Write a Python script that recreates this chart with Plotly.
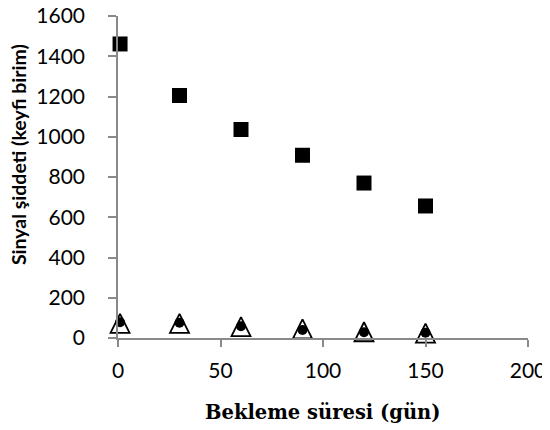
import plotly.graph_objects as go

days = [1, 30, 60, 90, 120, 150]
series_square = [1461, 1205, 1036, 908, 770, 656]
series_triangle = [73, 73, 57, 45, 31, 24]
series_circle = [78, 76, 58, 40, 29, 26]

x_ticks = [0, 50, 100, 150, 200]
y_ticks = [0, 200, 400, 600, 800, 1000, 1200, 1400, 1600]

x_title = "Bekleme süresi (gün)"
y_title = "Sinyal şiddeti (keyfi birim)"

fig = go.Figure()
fig.add_trace(go.Scatter(x=days, y=series_square, mode="markers",
                         marker=dict(symbol="square", size=15, color="black"),
                         cliponaxis=False, showlegend=False))
fig.add_trace(go.Scatter(x=days, y=series_triangle, mode="markers",
                         marker=dict(symbol="arrow-down-open", size=19, standoff=9.5, angle=180,
                                     color="black", line=dict(width=1.8, color="black")),
                         cliponaxis=False, showlegend=False))
fig.add_trace(go.Scatter(x=days, y=series_circle, mode="markers",
                         marker=dict(symbol="circle", size=10, color="black"),
                         cliponaxis=False, showlegend=False))

axis_common = dict(showgrid=False, zeroline=False, showline=True, linecolor="#898989",
                   linewidth=1.5, ticks="outside", tickcolor="#898989", tickwidth=1.5,
                   automargin=False, ticklabeloverflow="allow",
                   tickfont=dict(family="Lato", size=21, color="black"))

fig.update_xaxes(range=[0, 200], tickvals=x_ticks, ticklen=7, ticklabelstandoff=6, **axis_common)
fig.update_yaxes(range=[0, 1600], tickvals=y_ticks, ticklen=8, ticklabelstandoff=19, **axis_common)

# page body has an 8px default margin, so the figure is sized/offset to compensate
fig.update_layout(
    width=542, height=422,
    margin=dict(l=110, r=22, t=8, b=92),
    plot_bgcolor="white", paper_bgcolor="white",
    annotations=[
        dict(text=x_title, xref="paper", yref="paper", x=0.5, y=-0.232,
             xanchor="center", yanchor="middle", showarrow=False,
             font=dict(family="DejaVu Serif", size=19.5, color="black", weight="bold")),
        dict(text=y_title, xref="paper", yref="paper", x=-0.244, y=0.571,
             xanchor="center", yanchor="middle", showarrow=False, textangle=-90,
             font=dict(family="Lato", size=19.5, color="black", weight="bold")),
    ],
)

fig.write_html("out.html")
